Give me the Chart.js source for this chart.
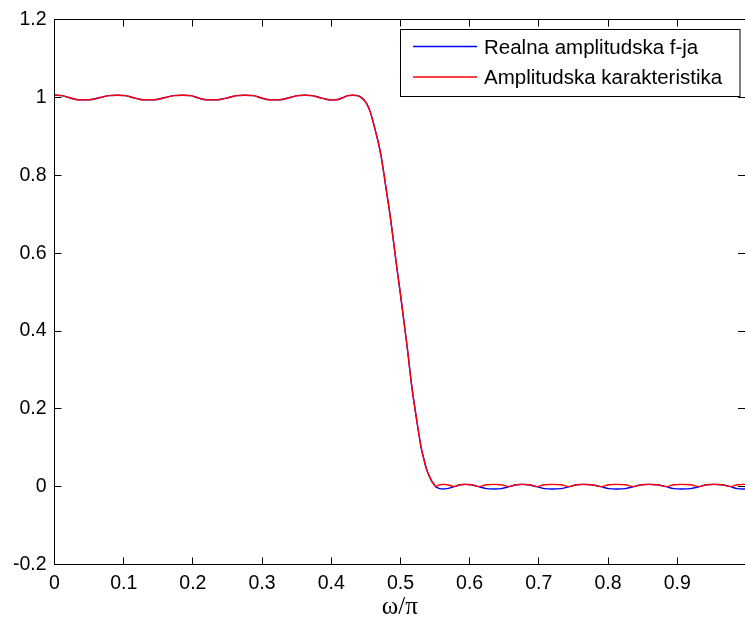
<!DOCTYPE html>
<html>
<head>
<meta charset="utf-8">
<script src="https://cdn.jsdelivr.net/npm/chart.js@4.4.0/dist/chart.umd.min.js"></script>
<style>
  html, body { margin: 0; padding: 0; background: #fff; }
  #wrap { width: 745px; height: 622px; }
</style>
</head>
<body>
<div id="wrap"><canvas id="amp" width="745" height="622"></canvas></div>
<script>
// normalized frequency w/pi
const omega = [
  0.000, 0.011, 0.021, 0.031, 0.042, 0.054, 0.066, 0.078, 0.091, 0.103,
  0.113, 0.124, 0.136, 0.148, 0.160, 0.172, 0.185, 0.197, 0.206, 0.216,
  0.228, 0.240, 0.252, 0.263, 0.275, 0.288, 0.297, 0.307, 0.318, 0.329,
  0.340, 0.351, 0.362, 0.373, 0.383, 0.394, 0.402, 0.410, 0.417, 0.424,
  0.431, 0.438, 0.444, 0.449, 0.453, 0.457, 0.461, 0.465, 0.468, 0.472,
  0.476, 0.480, 0.485, 0.490, 0.495, 0.500, 0.505, 0.510, 0.516, 0.523,
  0.530, 0.534, 0.537, 0.541, 0.545, 0.549, 0.551, 0.553, 0.557, 0.562,
  0.567, 0.572, 0.578, 0.586, 0.594, 0.603, 0.613, 0.624, 0.635, 0.646,
  0.657, 0.667, 0.676, 0.686, 0.697, 0.708, 0.720, 0.732, 0.744, 0.754,
  0.764, 0.776, 0.790, 0.801, 0.813, 0.825, 0.837, 0.848, 0.859, 0.871,
  0.884, 0.895, 0.907, 0.919, 0.932, 0.942, 0.953, 0.965, 0.977, 0.987,
  0.998
];
// Realna amplitudska f-ja (signed)
const realAmp = [
  1.006, 1.005, 1.000, 0.995, 0.994, 0.995, 1.000, 1.005, 1.006, 1.005,
  1.000, 0.995, 0.994, 0.995, 1.000, 1.005, 1.006, 1.005, 1.000, 0.995,
  0.994, 0.995, 1.000, 1.005, 1.006, 1.005, 1.000, 0.995, 0.994, 0.995,
  1.000, 1.005, 1.006, 1.005, 1.000, 0.995, 0.994, 0.995, 1.000, 1.005,
  1.006, 1.005, 0.999, 0.990, 0.978, 0.960, 0.934, 0.906, 0.885, 0.850,
  0.805, 0.757, 0.698, 0.630, 0.560, 0.495, 0.425, 0.355, 0.263, 0.177,
  0.100, 0.070, 0.049, 0.030, 0.015, 0.005, 0.000, -0.002, -0.005, -0.006,
  -0.005, -0.003, 0.000, 0.005, 0.006, 0.005, 0.000, -0.005, -0.006, -0.005,
  0.000, 0.005, 0.006, 0.005, 0.000, -0.005, -0.006, -0.005, 0.000, 0.005,
  0.006, 0.005, 0.000, -0.005, -0.006, -0.005, 0.000, 0.005, 0.006, 0.005,
  0.000, -0.005, -0.006, -0.005, 0.000, 0.005, 0.006, 0.005, 0.000, -0.005,
  -0.006
];
// Amplitudska karakteristika (magnitude)
const ampKar = [
  1.006, 1.005, 1.000, 0.995, 0.994, 0.995, 1.000, 1.005, 1.006, 1.005,
  1.000, 0.995, 0.994, 0.995, 1.000, 1.005, 1.006, 1.005, 1.000, 0.995,
  0.994, 0.995, 1.000, 1.005, 1.006, 1.005, 1.000, 0.995, 0.994, 0.995,
  1.000, 1.005, 1.006, 1.005, 1.000, 0.995, 0.994, 0.995, 1.000, 1.005,
  1.006, 1.005, 0.999, 0.990, 0.978, 0.960, 0.934, 0.906, 0.885, 0.850,
  0.805, 0.757, 0.698, 0.630, 0.560, 0.495, 0.425, 0.355, 0.263, 0.177,
  0.100, 0.070, 0.049, 0.030, 0.015, 0.005, 0.000, 0.002, 0.005, 0.006,
  0.005, 0.003, 0.000, 0.005, 0.006, 0.005, 0.000, 0.005, 0.006, 0.005,
  0.000, 0.005, 0.006, 0.005, 0.000, 0.005, 0.006, 0.005, 0.000, 0.005,
  0.006, 0.005, 0.000, 0.005, 0.006, 0.005, 0.000, 0.005, 0.006, 0.005,
  0.000, 0.005, 0.006, 0.005, 0.000, 0.005, 0.006, 0.005, 0.000, 0.005,
  0.006
];
const xTicks = [0, 0.1, 0.2, 0.3, 0.4, 0.5, 0.6, 0.7, 0.8, 0.9];
const yTicks = [-0.2, 0, 0.2, 0.4, 0.6, 0.8, 1, 1.2];
const xMax = 0.998;
const seriesLabels = ['Realna amplitudska f-ja', 'Amplitudska karakteristika'];
const seriesColors = ['#0000ff', '#ff0000'];
const xLabel = '\u03c9/\u03c0';

const SANS = '"Liberation Sans", Arial, sans-serif';
const SERIF = '"Liberation Serif", "Times New Roman", serif';

function crisp(v) {
  return Math.round(v - 0.5) + 0.5;
}

// MATLAB style box: inward ticks, legend inside axes, x label
const matlabAxes = {
  id: 'matlabAxes',
  afterDraw(chart) {
    const { ctx, chartArea: a, scales } = chart;
    const L = crisp(a.left), T = crisp(a.top), B = crisp(a.bottom), R = a.right + 1;
    const tick = 7;
    ctx.save();
    ctx.strokeStyle = '#000';
    ctx.lineWidth = 1;
    ctx.beginPath();
    ctx.moveTo(L, T); ctx.lineTo(R, T);
    ctx.moveTo(L, T); ctx.lineTo(L, B);
    ctx.moveTo(L, B); ctx.lineTo(R, B);
    xTicks.forEach((v) => {
      const px = crisp(scales.x.getPixelForValue(v));
      ctx.moveTo(px, B); ctx.lineTo(px, B - tick);
      ctx.moveTo(px, T); ctx.lineTo(px, T + tick);
    });
    yTicks.forEach((v) => {
      const py = crisp(scales.y.getPixelForValue(v));
      ctx.moveTo(L, py); ctx.lineTo(L + tick, py);
      ctx.moveTo(a.right, py); ctx.lineTo(a.right - tick, py);
    });
    ctx.stroke();

    // legend
    const lx = 400.5, ly = 29.5, lw = 339.5, lh = 67;
    ctx.fillStyle = '#fff';
    ctx.fillRect(lx, ly, lw, lh);
    ctx.strokeRect(lx, ly, lw, lh);
    ctx.font = '20.5px ' + SANS;
    ctx.textBaseline = 'middle';
    ctx.textAlign = 'left';
    seriesLabels.forEach((txt, i) => {
      const cy = 46.5 + i * 30.5;
      ctx.strokeStyle = seriesColors[i];
      ctx.lineWidth = 1.3;
      ctx.beginPath();
      ctx.moveTo(413, cy); ctx.lineTo(477, cy);
      ctx.stroke();
      ctx.fillStyle = '#000';
      ctx.fillText(txt, 484, cy + 1.5);
    });

    // x axis label
    ctx.font = '25px ' + SERIF;
    ctx.textAlign = 'center';
    ctx.fillText(xLabel, (a.left + a.right) / 2, 607);
    ctx.restore();
  }
};

const tickFont = { family: SANS, size: 19.5 };

new Chart(document.getElementById('amp').getContext('2d'), {
  type: 'line',
  data: {
    datasets: [
      {
        label: seriesLabels[0],
        data: omega.map((w, i) => ({ x: w, y: realAmp[i] })),
        borderColor: seriesColors[0],
        borderWidth: 1.4,
        pointRadius: 0,
        cubicInterpolationMode: 'monotone',
        order: 1
      },
      {
        label: seriesLabels[1],
        data: omega.map((w, i) => ({ x: w, y: ampKar[i] })),
        borderColor: seriesColors[1],
        borderWidth: 1.4,
        pointRadius: 0,
        cubicInterpolationMode: 'monotone',
        order: 0
      }
    ]
  },
  options: {
    responsive: false,
    devicePixelRatio: 1,
    animation: false,
    events: [],
    layout: { padding: { top: 17, left: 0, right: 0, bottom: 0 } },
    plugins: { legend: { display: false }, tooltip: { enabled: false } },
    scales: {
      x: {
        type: 'linear',
        min: 0,
        max: xMax,
        afterBuildTicks: (s) => { s.ticks = xTicks.map((v) => ({ value: v })); },
        afterFit: (s) => { s.height = 57.5; },
        grid: { display: false, drawTicks: false },
        border: { display: false },
        ticks: {
          padding: 7,
          color: '#000',
          font: tickFont,
          autoSkip: false,
          maxRotation: 0,
          callback: (v) => String(v)
        }
      },
      y: {
        type: 'linear',
        min: -0.2,
        max: 1.2,
        afterBuildTicks: (s) => { s.ticks = yTicks.map((v) => ({ value: v })); },
        afterFit: (s) => { s.width = 54.5; },
        grid: { display: false, drawTicks: false },
        border: { display: false },
        ticks: {
          padding: 8,
          color: '#000',
          font: tickFont,
          callback: (v) => String(v)
        }
      }
    }
  },
  plugins: [matlabAxes]
});
</script>
</body>
</html>
